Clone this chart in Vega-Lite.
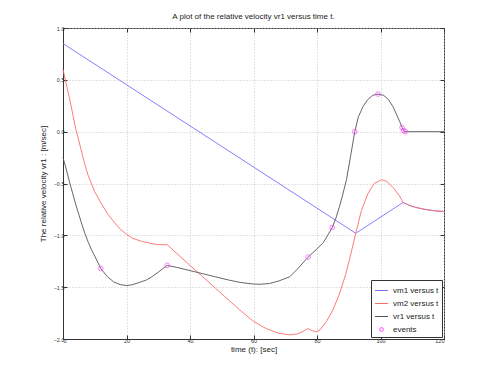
{
  "$schema": "https://vega.github.io/schema/vega-lite/v6.json",
  "autosize": {"type": "none"},
  "padding": {"left": 63, "top": 28, "right": 47, "bottom": 42},
  "width": 381,
  "height": 311,
  "background": "white",
  "title": {"text": "A plot of the relative velocity vr1 versus time t.", "fontSize": 8, "font": "Liberation Sans", "fontWeight": "normal", "color": "#222", "offset": 5, "anchor": "middle"},
  "config": {
    "view": {"stroke": "#333", "strokeWidth": 1},
    "axis": {"labelFont": "Liberation Sans", "labelFontSize": 5.5, "labelColor": "#333", "titleFont": "Liberation Sans", "titleFontSize": 8, "titleFontWeight": "normal", "titleColor": "#222", "tickColor": "#333", "domainColor": "#333", "gridColor": "#c8c8c8", "gridDash": [1, 2], "tickSize": -4, "labelPadding": 3}
  },
  "datasets": {
    "lines": [
      {"t": 0, "v": 0.85, "s": "vm1 versus t"},
      {"t": 92.2, "v": -0.98, "s": "vm1 versus t"},
      {"t": 107.1, "v": -0.683, "s": "vm1 versus t"},
      {"t": 109, "v": -0.71, "s": "vm1 versus t"},
      {"t": 111, "v": -0.73, "s": "vm1 versus t"},
      {"t": 114, "v": -0.75, "s": "vm1 versus t"},
      {"t": 117, "v": -0.763, "s": "vm1 versus t"},
      {"t": 120, "v": -0.77, "s": "vm1 versus t"},

      {"t": 0, "v": 0.6, "s": "vm2 versus t"},
      {"t": 1, "v": 0.46, "s": "vm2 versus t"},
      {"t": 2, "v": 0.33, "s": "vm2 versus t"},
      {"t": 3, "v": 0.18, "s": "vm2 versus t"},
      {"t": 4, "v": 0.03, "s": "vm2 versus t"},
      {"t": 5, "v": -0.09, "s": "vm2 versus t"},
      {"t": 6, "v": -0.21, "s": "vm2 versus t"},
      {"t": 7, "v": -0.33, "s": "vm2 versus t"},
      {"t": 8, "v": -0.43, "s": "vm2 versus t"},
      {"t": 10, "v": -0.58, "s": "vm2 versus t"},
      {"t": 12, "v": -0.69, "s": "vm2 versus t"},
      {"t": 14, "v": -0.79, "s": "vm2 versus t"},
      {"t": 16, "v": -0.87, "s": "vm2 versus t"},
      {"t": 18, "v": -0.94, "s": "vm2 versus t"},
      {"t": 20, "v": -0.99, "s": "vm2 versus t"},
      {"t": 22, "v": -1.03, "s": "vm2 versus t"},
      {"t": 25, "v": -1.06, "s": "vm2 versus t"},
      {"t": 28, "v": -1.08, "s": "vm2 versus t"},
      {"t": 30, "v": -1.09, "s": "vm2 versus t"},
      {"t": 32.8, "v": -1.09, "s": "vm2 versus t"},
      {"t": 40, "v": -1.29, "s": "vm2 versus t"},
      {"t": 48, "v": -1.51, "s": "vm2 versus t"},
      {"t": 55.7, "v": -1.72, "s": "vm2 versus t"},
      {"t": 60, "v": -1.83, "s": "vm2 versus t"},
      {"t": 64, "v": -1.9, "s": "vm2 versus t"},
      {"t": 68, "v": -1.945, "s": "vm2 versus t"},
      {"t": 71.4, "v": -1.96, "s": "vm2 versus t"},
      {"t": 74, "v": -1.95, "s": "vm2 versus t"},
      {"t": 76, "v": -1.92, "s": "vm2 versus t"},
      {"t": 77.2, "v": -1.9, "s": "vm2 versus t"},
      {"t": 78.5, "v": -1.92, "s": "vm2 versus t"},
      {"t": 79.8, "v": -1.93, "s": "vm2 versus t"},
      {"t": 81, "v": -1.91, "s": "vm2 versus t"},
      {"t": 83, "v": -1.83, "s": "vm2 versus t"},
      {"t": 85, "v": -1.72, "s": "vm2 versus t"},
      {"t": 87, "v": -1.57, "s": "vm2 versus t"},
      {"t": 89, "v": -1.38, "s": "vm2 versus t"},
      {"t": 90.5, "v": -1.2, "s": "vm2 versus t"},
      {"t": 92.2, "v": -0.98, "s": "vm2 versus t"},
      {"t": 94, "v": -0.76, "s": "vm2 versus t"},
      {"t": 96, "v": -0.6, "s": "vm2 versus t"},
      {"t": 98, "v": -0.5, "s": "vm2 versus t"},
      {"t": 100.3, "v": -0.464, "s": "vm2 versus t"},
      {"t": 102, "v": -0.48, "s": "vm2 versus t"},
      {"t": 104, "v": -0.54, "s": "vm2 versus t"},
      {"t": 106, "v": -0.62, "s": "vm2 versus t"},
      {"t": 107.1, "v": -0.683, "s": "vm2 versus t"},
      {"t": 109, "v": -0.71, "s": "vm2 versus t"},
      {"t": 111, "v": -0.73, "s": "vm2 versus t"},
      {"t": 114, "v": -0.75, "s": "vm2 versus t"},
      {"t": 117, "v": -0.763, "s": "vm2 versus t"},
      {"t": 120, "v": -0.77, "s": "vm2 versus t"},

      {"t": 0, "v": -0.25, "s": "vr1 versus t"},
      {"t": 1, "v": -0.36, "s": "vr1 versus t"},
      {"t": 2, "v": -0.48, "s": "vr1 versus t"},
      {"t": 3, "v": -0.59, "s": "vr1 versus t"},
      {"t": 4, "v": -0.7, "s": "vr1 versus t"},
      {"t": 5, "v": -0.8, "s": "vr1 versus t"},
      {"t": 6, "v": -0.9, "s": "vr1 versus t"},
      {"t": 7, "v": -0.99, "s": "vr1 versus t"},
      {"t": 8, "v": -1.07, "s": "vr1 versus t"},
      {"t": 9, "v": -1.14, "s": "vr1 versus t"},
      {"t": 10, "v": -1.2, "s": "vr1 versus t"},
      {"t": 11.9, "v": -1.32, "s": "vr1 versus t"},
      {"t": 14, "v": -1.4, "s": "vr1 versus t"},
      {"t": 16, "v": -1.45, "s": "vr1 versus t"},
      {"t": 18, "v": -1.475, "s": "vr1 versus t"},
      {"t": 20.2, "v": -1.485, "s": "vr1 versus t"},
      {"t": 22, "v": -1.475, "s": "vr1 versus t"},
      {"t": 24, "v": -1.455, "s": "vr1 versus t"},
      {"t": 26.3, "v": -1.43, "s": "vr1 versus t"},
      {"t": 28, "v": -1.4, "s": "vr1 versus t"},
      {"t": 30, "v": -1.355, "s": "vr1 versus t"},
      {"t": 32.8, "v": -1.29, "s": "vr1 versus t"},
      {"t": 36, "v": -1.31, "s": "vr1 versus t"},
      {"t": 40, "v": -1.34, "s": "vr1 versus t"},
      {"t": 44, "v": -1.37, "s": "vr1 versus t"},
      {"t": 48, "v": -1.4, "s": "vr1 versus t"},
      {"t": 52, "v": -1.43, "s": "vr1 versus t"},
      {"t": 56, "v": -1.455, "s": "vr1 versus t"},
      {"t": 60, "v": -1.47, "s": "vr1 versus t"},
      {"t": 62, "v": -1.472, "s": "vr1 versus t"},
      {"t": 65, "v": -1.465, "s": "vr1 versus t"},
      {"t": 68, "v": -1.44, "s": "vr1 versus t"},
      {"t": 71.4, "v": -1.4, "s": "vr1 versus t"},
      {"t": 74, "v": -1.32, "s": "vr1 versus t"},
      {"t": 77.2, "v": -1.21, "s": "vr1 versus t"},
      {"t": 80, "v": -1.13, "s": "vr1 versus t"},
      {"t": 82, "v": -1.07, "s": "vr1 versus t"},
      {"t": 84.8, "v": -0.925, "s": "vr1 versus t"},
      {"t": 86, "v": -0.83, "s": "vr1 versus t"},
      {"t": 87.1, "v": -0.72, "s": "vr1 versus t"},
      {"t": 88, "v": -0.62, "s": "vr1 versus t"},
      {"t": 89.3, "v": -0.46, "s": "vr1 versus t"},
      {"t": 90.5, "v": -0.25, "s": "vr1 versus t"},
      {"t": 91.9, "v": 0.0, "s": "vr1 versus t"},
      {"t": 93, "v": 0.14, "s": "vr1 versus t"},
      {"t": 94.5, "v": 0.243, "s": "vr1 versus t"},
      {"t": 96, "v": 0.31, "s": "vr1 versus t"},
      {"t": 97.5, "v": 0.35, "s": "vr1 versus t"},
      {"t": 99.2, "v": 0.363, "s": "vr1 versus t"},
      {"t": 101, "v": 0.35, "s": "vr1 versus t"},
      {"t": 102.5, "v": 0.31, "s": "vr1 versus t"},
      {"t": 103.9, "v": 0.243, "s": "vr1 versus t"},
      {"t": 105, "v": 0.17, "s": "vr1 versus t"},
      {"t": 106, "v": 0.1, "s": "vr1 versus t"},
      {"t": 106.8, "v": 0.04, "s": "vr1 versus t"},
      {"t": 107.6, "v": 0.0, "s": "vr1 versus t"},
      {"t": 120, "v": 0.0, "s": "vr1 versus t"}
    ],
    "events": [
      {"t": 11.9, "v": -1.32, "s": "events"},
      {"t": 32.8, "v": -1.29, "s": "events"},
      {"t": 77.2, "v": -1.21, "s": "events"},
      {"t": 84.8, "v": -0.925, "s": "events"},
      {"t": 91.9, "v": 0.0, "s": "events"},
      {"t": 99.2, "v": 0.363, "s": "events"},
      {"t": 106.8, "v": 0.04, "s": "events"},
      {"t": 107.3, "v": 0.01, "s": "events"},
      {"t": 107.8, "v": 0.0, "s": "events"}
    ]
  },
  "layer": [
    {
      "data": {"name": "lines"},
      "mark": {"type": "line", "strokeWidth": 0.9},
      "encoding": {
        "x": {"field": "t", "type": "quantitative", "scale": {"domain": [0, 120], "nice": false, "zero": false},
              "axis": {"values": [0, 20, 40, 60, 80, 100, 120], "title": "time (t): [sec]", "titlePadding": 2, "grid": true}},
        "y": {"field": "v", "type": "quantitative", "scale": {"domain": [-2, 1], "nice": false, "zero": false},
              "axis": {"values": [-2, -1.5, -1, -0.5, 0, 0.5, 1], "title": "The relative velocity vr1 : [m/sec]", "titlePadding": 6, "grid": true}},
        "color": {"field": "s", "type": "nominal",
                  "scale": {"domain": ["vm1 versus t", "vm2 versus t", "vr1 versus t", "events"], "range": ["#7373ff", "#ff6b6b", "#555555", "#ff44ff"]},
                  "legend": {"orient": "bottom-right", "offset": 2, "title": null, "labelFont": "Liberation Sans", "labelFontSize": 8, "labelColor": "#222",
                             "strokeColor": "#333", "fillColor": "white", "padding": 3, "rowPadding": 1, "symbolSize": 120, "symbolStrokeWidth": 1,
                             "encode": {"symbols": {"update": {"shape": {"signal": "datum.value === 'events' ? 'circle' : 'stroke'"}, "size": {"signal": "datum.value === 'events' ? 14 : 170"}, "fill": {"value": "transparent"}}}}}}
      }
    },
    {
      "data": {"name": "events"},
      "mark": {"type": "point", "shape": "circle", "filled": false, "size": 22, "strokeWidth": 1},
      "encoding": {
        "x": {"field": "t", "type": "quantitative", "axis": {"orient": "top", "labels": false, "title": null, "values": [0, 20, 40, 60, 80, 100, 120], "grid": false, "domain": false}},
        "y": {"field": "v", "type": "quantitative", "axis": {"orient": "right", "labels": false, "title": null, "values": [-2, -1.5, -1, -0.5, 0, 0.5, 1], "grid": false, "domain": false}},
        "color": {"field": "s", "type": "nominal"}
      }
    }
  ],
  "resolve": {"axis": {"x": "independent", "y": "independent"}}
}
